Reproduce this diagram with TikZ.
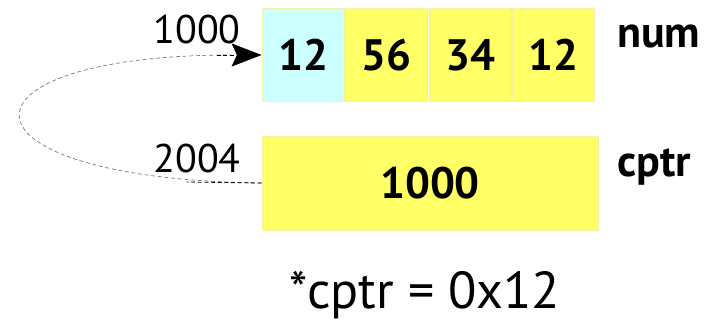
\documentclass[tikz,border=0pt]{standalone}
\usepackage{fontspec}
\setmainfont{PT Sans}
\usetikzlibrary{arrows.meta,calc}
\definecolor{cellyellow}{HTML}{FFFF66}
\definecolor{cellcyan}{HTML}{CCFFFF}
\definecolor{celledge}{HTML}{F4F0A8}
\tikzset{
  cell/.style={draw=celledge, line width=0.6pt, minimum width=82*0.75pt, minimum height=93*0.75pt, inner sep=0pt,
    font=\fontsize{33}{36}\selectfont\bfseries, anchor=center},
  addr/.style={font=\fontsize{30}{34}\selectfont, inner sep=0pt, anchor=base east},
  varname/.style={font=\fontsize{33}{36}\selectfont\bfseries, inner sep=0pt, anchor=base west},
  link/.style={densely dashed, black!55, line width=0.5pt},
}
\begin{document}
\begin{tikzpicture}[x=0.75pt,y=-0.75pt]
\useasboundingbox (0,0) rectangle (706,322);
\node[cell, fill=cellcyan] (c1) at (303,55) {12};
\node[cell, fill=cellyellow] (c2) at (386.5,55) {56};
\node[cell, fill=cellyellow] (c3) at (470,55) {34};
\node[cell, fill=cellyellow] (c4) at (553.5,55) {12};
\node[cell, fill=cellyellow, minimum width=336*0.75pt, minimum height=94*0.75pt] (cptr) at (430,183) {1000};
\node[addr] (a1) at (241,43) {1000};
\node[addr] (a2) at (241,172) {2004};
\node[varname] (n1) at (617,47) {num};
\node[varname] (n2) at (617,176) {cptr};
\node[font=\fontsize{39}{44}\selectfont, inner sep=0pt, anchor=base] (expr) at (425,308) {*cptr = 0x12};
\draw[link] (cptr.west) .. controls ($(cptr.west)+(-318,-4)$) and ($(c1.west)+(-318,0)$) .. ($(c1.west)+(-30,0)$);
\draw[densely dashed, black, line width=0.6pt] (cptr.west) -- ++(-75,-1);
\draw[densely dashed, black, line width=0.6pt, -{Stealth[length=30*0.75pt,width=23*0.75pt,inset=4pt]}] ($(c1.west)+(-45,0)$) -- (c1.west);
\end{tikzpicture}
\end{document}
